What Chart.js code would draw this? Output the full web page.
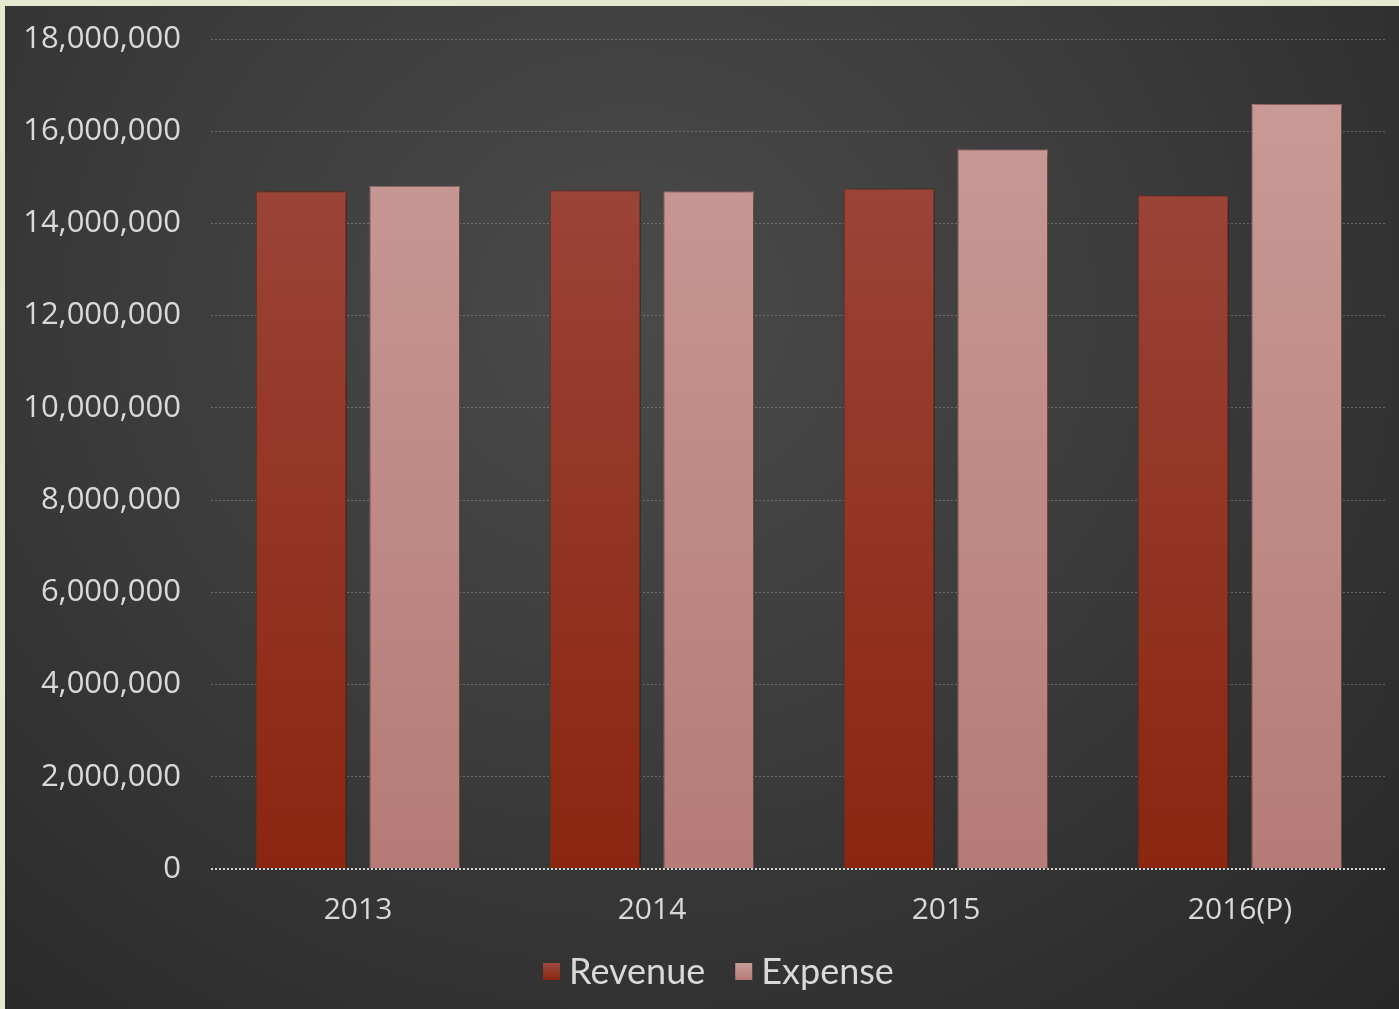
<!DOCTYPE html>
<html>
<head>
<meta charset="utf-8">
<script src="https://cdn.jsdelivr.net/npm/chart.js@4.4.1/dist/chart.umd.min.js"></script>
<style>
    html, body { margin: 0; padding: 0; }
    body { width: 1399px; height: 1009px; background: #e4ead0; position: relative; overflow: hidden; }
    #frame {
        position: absolute; left: 5px; top: 6px; width: 1394px; height: 1003px;
        background: radial-gradient(ellipse at 45% 30%, #4a4a4a 0%, #3c3c3c 45%, #272727 100%);
    }
</style>
</head>
<body>
<div id="frame"><canvas id="chart" width="1394" height="1003"></canvas></div>
<script>
// Données du graphique
const years = ['2013', '2014', '2015', '2016(P)'];
const revenue = [14700000, 14720000, 14760000, 14610000];
const expense = [14810000, 14700000, 15610000, 16590000];
const yTicks = [0, 2000000, 4000000, 6000000, 8000000, 10000000, 12000000, 14000000, 16000000, 18000000];

// Dégradé vertical pour les barres
function barGradient(top, bottom, fallback) {
    return (context) => {
        const area = context.chart.chartArea;
        if (!area) return fallback;
        const g = context.chart.ctx.createLinearGradient(0, area.top, 0, area.bottom);
        g.addColorStop(0, top);
        g.addColorStop(1, bottom);
        return g;
    };
}

// Ombre portée des barres
const barShadow = {
    id: 'barShadow',
    beforeDatasetsDraw(chart) {
        const ctx = chart.ctx;
        ctx.save();
        ctx.shadowColor = 'rgba(0,0,0,0.55)';
        ctx.shadowBlur = 10;
        ctx.shadowOffsetX = 4;
        ctx.shadowOffsetY = 2;
    },
    afterDatasetsDraw(chart) {
        chart.ctx.restore();
    }
};

// Légende dessinée à la main (carré + texte, serrés comme dans l'original)
const customLegend = {
    id: 'customLegend',
    afterDraw(chart) {
        const ctx = chart.ctx;
        const legendColors = [['#9e4a40', '#8a2610'], ['#ca9c98', '#b67b76']];
        const y = 965;
        let x = 538;
        ctx.save();
        ctx.font = '36px Lato';
        ctx.textBaseline = 'middle';
        chart.data.datasets.forEach((ds, i) => {
            const g = ctx.createLinearGradient(0, y - 8, 0, y + 9);
            g.addColorStop(0, legendColors[i][0]);
            g.addColorStop(1, legendColors[i][1]);
            ctx.fillStyle = g;
            ctx.fillRect(x, y - 8, 17, 17);
            x += 17 + 9;
            ctx.fillStyle = '#d9d9d9';
            ctx.fillText(ds.label, x, y + 1);
            x += ctx.measureText(ds.label).width + 30;
        });
        ctx.restore();
    }
};

new Chart(document.getElementById('chart'), {
    type: 'bar',
    data: {
        labels: years,
        datasets: [{
            label: 'Revenue',
            data: revenue,
            backgroundColor: barGradient('#9e4a40', '#8a2610', '#943a2c'),
            borderColor: '#7a3328',
            borderWidth: 1
        }, {
            label: 'Expense',
            data: expense,
            backgroundColor: barGradient('#ca9c98', '#b67b76', '#c08a86'),
            borderColor: '#a27672',
            borderWidth: 1
        }]
    },
    options: {
        responsive: false,
        animation: false,
        categoryPercentage: 0.772,
        barPercentage: 0.8,
        layout: { padding: { top: 33, right: 12, left: 0, bottom: 66 } },
        plugins: {
            tooltip: { enabled: false },
            legend: { display: false }
        },
        scales: {
            x: {
                grid: { display: false },
                border: { display: false },
                ticks: {
                    color: '#d9d9d9',
                    font: { family: 'Open Sans', size: 30 },
                    padding: 15
                }
            },
            y: {
                min: 0,
                max: 18000000,
                afterFit(scale) { scale.width = 206; },
                afterBuildTicks(scale) { scale.ticks = yTicks.map(v => ({ value: v })); },
                grid: {
                    drawTicks: true,
                    tickLength: 25,
                    tickColor: 'rgba(0,0,0,0)',
                    color: (c) => c.tick && c.tick.value === 0 ? '#cfcfcf' : 'rgba(200,200,200,0.35)',
                    lineWidth: (c) => c.tick && c.tick.value === 0 ? 2 : 1
                },
                border: { display: false, dash: [2, 2] },
                ticks: {
                    color: '#d9d9d9',
                    font: { family: 'Open Sans', size: 31 },
                    padding: 5,
                    callback: (v) => v.toLocaleString('en-US')
                }
            }
        }
    },
    plugins: [barShadow, customLegend]
});
</script>
</body>
</html>
